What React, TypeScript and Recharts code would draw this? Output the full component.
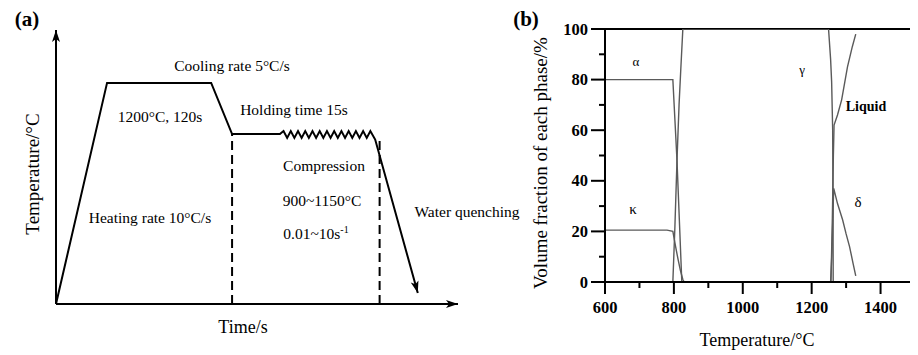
import React from "react";
import {
  LineChart,
  Line,
  XAxis,
  YAxis,
  ReferenceLine,
  ReferenceDot,
} from "recharts";

const FONT = '"Liberation Serif", "Times New Roman", serif';

// (a) hot compression schedule, schematic units (0-100 on both axes)
const scheduleTime = [
  0, 12.7, 38.6, 43.8, 55.7, 56.6, 57.5, 58.4, 59.3, 60.2, 61.1, 62.0, 62.9,
  63.8, 64.7, 65.6, 66.5, 67.4, 68.3, 69.2, 70.1, 71.0, 71.9, 72.8, 73.7, 74.6,
  75.5, 76.4, 77.3, 78.2, 79.4, 90.0,
];
const scheduleTemp = [
  0, 80.7, 80.7, 62.0, 62.0, 63.1, 60.6, 63.1, 60.6, 63.1, 60.6, 63.1, 60.6,
  63.1, 60.6, 63.1, 60.6, 63.1, 60.6, 63.1, 60.6, 63.1, 60.6, 63.1, 60.6, 63.1,
  60.6, 63.1, 60.6, 63.1, 60.0, 4.0,
];
// dashed stage boundaries: end of holding, end of compression
const stageTime = [43.8, 80.5];
const stageTemp = [62.0, 60.0];

// (b) equilibrium phase fractions vs temperature
const alphaTemp = [600, 797, 803, 809, 816, 823];
const alphaFrac = [80, 80, 64, 48, 24, 0];
const kappaTemp = [600, 780, 797, 805, 812, 819, 826, 830, 840];
const kappaFrac = [20.5, 20.5, 20, 14, 9, 4.5, 1, 0, 0];
const gammaTemp = [797, 803, 809, 815, 820, 826, 1249, 1255, 1258, 1261, 1262, 1262.5];
const gammaFrac = [0, 22, 48, 70, 84, 100, 100, 88, 79, 60, 30, 0];
const liquidTemp = [1256, 1260, 1263, 1265, 1275, 1287, 1304, 1318, 1328];
const liquidFrac = [0, 25, 50, 62, 66, 72, 85, 93, 98];
const deltaTemp = [1255, 1259, 1262, 1264, 1275, 1290, 1300, 1310, 1320, 1328];
const deltaFrac = [0, 12, 28, 37, 31, 24.5, 19, 14, 7.5, 2.4];

const tempTicks = [600, 700, 800, 900, 1000, 1100, 1200, 1300, 1400, 1500];
const fracTicks = [0, 10, 20, 30, 40, 50, 60, 70, 80, 90, 100];

const toRows = (xs: number[], ys: number[]) => xs.map((x, i) => ({ x, y: ys[i] }));

const scheduleData = toRows(scheduleTime, scheduleTemp);
const phases = [
  { name: "alpha", data: toRows(alphaTemp, alphaFrac) },
  { name: "kappa", data: toRows(kappaTemp, kappaFrac) },
  { name: "gamma", data: toRows(gammaTemp, gammaFrac) },
  { name: "liquid", data: toRows(liquidTemp, liquidFrac) },
  { name: "delta", data: toRows(deltaTemp, deltaFrac) },
];

const Note = ({
  x,
  y,
  size = 15.5,
  bold = false,
  rotate = false,
  children,
}: {
  x: number;
  y: number;
  size?: number;
  bold?: boolean;
  rotate?: boolean;
  children: React.ReactNode;
}) => (
  <div
    style={{
      position: "absolute",
      left: x,
      top: y,
      transform: `translate(-50%, -50%)${rotate ? " rotate(-90deg)" : ""}`,
      fontSize: size,
      fontWeight: bold ? "bold" : "normal",
      whiteSpace: "nowrap",
      lineHeight: 1,
      color: "#000",
    }}
  >
    {children}
  </div>
);

// arrow head drawn on the last point of the schedule, aligned with the last segment
function makeArrowDot(lastIndex: number) {
  let prev: { x: number; y: number } | null = null;
  return (props: any) => {
    const { cx, cy, index, points } = props;
    const key = `dot-${index}`;
    if (index !== lastIndex) {
      prev = { x: cx, y: cy };
      return <g key={key} />;
    }
    const p = points && points[index - 1] ? points[index - 1] : prev;
    if (!p) return <g key={key} />;
    const ang = (Math.atan2(cy - p.y, cx - p.x) * 180) / Math.PI;
    return (
      <path
        key={key}
        d="M0,0 L-12,-4 L-9,0 L-12,4 Z"
        transform={`translate(${cx},${cy}) rotate(${ang})`}
        fill="#000"
      />
    );
  };
}

const axisArrow = (dir: "up" | "right") => (props: any) => {
  const { cx, cy } = props;
  const d =
    dir === "up"
      ? `M${cx},${cy} L${cx - 4},${cy + 12} L${cx},${cy + 9} L${cx + 4},${cy + 12} Z`
      : `M${cx},${cy} L${cx - 12},${cy - 4} L${cx - 9},${cy} L${cx - 12},${cy + 4} Z`;
  return <path d={d} fill="#000" />;
};

const TempTick = (props: any) => {
  const { x, y, payload } = props;
  const v = payload.value as number;
  const major = v % 200 === 0 && v < 1500;
  return (
    <g>
      <line x1={x} y1={y} x2={x} y2={y + (major ? 12 : 6)} stroke="#000" strokeWidth={2} />
      {major && (
        <text
          x={x}
          y={y + 31}
          textAnchor="middle"
          fontFamily={FONT}
          fontWeight="bold"
          fontSize={16.5}
          fill="#000"
        >
          {v}
        </text>
      )}
    </g>
  );
};

const FracTick = (props: any) => {
  const { x, y, payload } = props;
  const v = payload.value as number;
  const major = v % 20 === 0;
  return (
    <g>
      <line x1={x - (major ? 14 : 6)} y1={y} x2={x} y2={y} stroke="#000" strokeWidth={2} />
      {major && (
        <text
          x={x - 17}
          y={y + 5.5}
          textAnchor="end"
          fontFamily={FONT}
          fontWeight="bold"
          fontSize={16.5}
          fill="#000"
        >
          {v}
        </text>
      )}
    </g>
  );
};

export default function App() {
  const arrowDot = makeArrowDot(scheduleData.length - 1);

  return (
    <div
      style={{
        position: "relative",
        width: 918,
        height: 355,
        margin: "-8px 0 0 -8px",
        background: "#fff",
        fontFamily: FONT,
        overflow: "hidden",
      }}
    >
      {/* (a) processing schedule */}
      <div style={{ position: "absolute", left: 0, top: 0 }}>
        <LineChart
          width={470}
          height={355}
          data={scheduleData}
          margin={{ top: 30, right: 12, bottom: 31, left: 36 }}
        >
          <XAxis
            dataKey="x"
            type="number"
            domain={[0, 100]}
            height={20}
            tick={false}
            tickLine={false}
            axisLine={{ stroke: "#000", strokeWidth: 2 }}
          />
          <YAxis
            type="number"
            domain={[0, 100]}
            width={20}
            tick={false}
            tickLine={false}
            axisLine={{ stroke: "#000", strokeWidth: 2 }}
          />
          {stageTime.map((t, i) => (
            <ReferenceLine
              key={`stage-${i}`}
              segment={[
                { x: t, y: 0 },
                { x: t, y: stageTemp[i] },
              ]}
              stroke="#000"
              strokeWidth={2}
              strokeDasharray="9 5"
            />
          ))}
          <ReferenceDot x={0} y={100} ifOverflow="visible" shape={axisArrow("up")} />
          <ReferenceDot x={100} y={0} ifOverflow="visible" shape={axisArrow("right")} />
          <Line
            dataKey="y"
            type="linear"
            stroke="#000"
            strokeWidth={2}
            dot={arrowDot}
            activeDot={false}
            isAnimationActive={false}
          />
        </LineChart>
      </div>

      <Note x={27} y={19} size={21} bold>(a)</Note>
      <Note x={32} y={174} size={19} rotate>Temperature/°C</Note>
      <Note x={243} y={327} size={18}>Time/s</Note>
      <Note x={232} y={66}>Cooling rate 5°C/s</Note>
      <Note x={160} y={117}>1200°C, 120s</Note>
      <Note x={294} y={110}>Holding time 15s</Note>
      <Note x={150} y={218}>Heating rate 10°C/s</Note>
      <Note x={324} y={166}>Compression</Note>
      <Note x={322} y={201}>900~1150°C</Note>
      <Note x={316} y={233}>
        0.01~10s<sup style={{ fontSize: 10, verticalAlign: "6px" }}>-1</sup>
      </Note>
      <Note x={467} y={212}>Water quenching</Note>

      {/* (b) phase fractions */}
      <div style={{ position: "absolute", left: 500, top: 0 }}>
        <LineChart
          width={418}
          height={355}
          margin={{ top: 29, right: 3, bottom: 33, left: 45 }}
        >
          <XAxis
            dataKey="x"
            type="number"
            domain={[600, 1500]}
            ticks={tempTicks}
            interval={0}
            allowDataOverflow
            height={40}
            tickSize={0}
            tickMargin={0}
            tickLine={false}
            tick={<TempTick />}
            axisLine={{ stroke: "#000", strokeWidth: 2 }}
          />
          <YAxis
            type="number"
            domain={[0, 100]}
            ticks={fracTicks}
            interval={0}
            allowDataOverflow
            width={60}
            tickSize={0}
            tickMargin={0}
            tickLine={false}
            tick={<FracTick />}
            axisLine={{ stroke: "#000", strokeWidth: 2 }}
          />
          <ReferenceLine y={100} stroke="#000" strokeWidth={2} />
          <ReferenceLine x={1500} stroke="#000" strokeWidth={2} />
          {phases.map((p) => (
            <Line
              key={p.name}
              data={p.data}
              dataKey="y"
              type="linear"
              stroke="#5a5a5a"
              strokeWidth={1.4}
              dot={false}
              activeDot={false}
              isAnimationActive={false}
            />
          ))}
        </LineChart>
      </div>

      <Note x={526} y={19} size={21} bold>(b)</Note>
      <Note x={540} y={163} size={19} rotate>Volume fraction of each phase/%</Note>
      <Note x={757} y={340} size={18}>Temperature/°C</Note>
      <Note x={636} y={61} size={13}>α</Note>
      <Note x={802} y={69} size={13}>γ</Note>
      <Note x={866} y={107} size={14} bold>Liquid</Note>
      <Note x={633} y={209} size={15}>κ</Note>
      <Note x={858} y={202} size={15}>δ</Note>
    </div>
  );
}
